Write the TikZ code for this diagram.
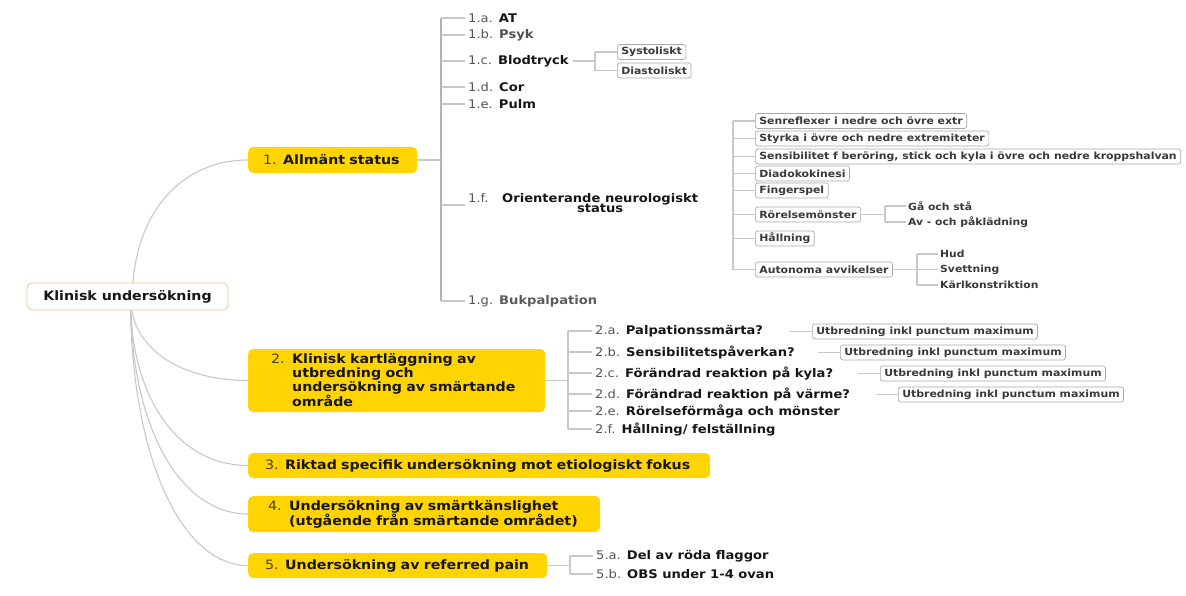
\documentclass[tikz,border=0pt]{standalone}
\usepackage{fontspec}
\setmainfont{DejaVu Sans}[FakeStretch=1.1]
\usetikzlibrary{backgrounds}
\definecolor{myyellow}{RGB}{255,212,0}
\definecolor{connc}{RGB}{200,200,200}
\definecolor{conndark}{RGB}{178,178,178}
\definecolor{boxline}{RGB}{168,168,168}
\definecolor{rootline}{RGB}{246,200,140}
\definecolor{numcol}{RGB}{85,85,85}
\definecolor{txt}{RGB}{22,22,22}
\newcommand{\numm}[1]{{\mdseries\color{numcol}#1}}
\newcommand{\mnum}[1]{{\mdseries\color{black!70!myyellow}#1}}
\tikzset{
  mainbox/.style={fill=myyellow, rounded corners=5pt, anchor=west, inner ysep=0pt,
    align=left, text=txt, font=\bfseries\fontsize{12.9}{13.9}\selectfont},
  rootbox/.style={draw=rootline, line width=0.9pt, fill=white, rounded corners=5pt,
    minimum width=201pt, minimum height=27pt, inner sep=0pt, text=txt,
    font=\bfseries\fontsize{12.9}{14}\selectfont},
  item/.style={anchor=west, inner sep=0pt, text=txt, font=\bfseries\fontsize{11.9}{12.5}\selectfont},
  smallbox/.style={draw=boxline, line width=0.7pt, fill=white, rounded corners=2.5pt,
    anchor=west, inner xsep=4pt, inner ysep=0pt, minimum height=15pt, text=txt!85,
    font=\bfseries\fontsize{9.9}{11}\selectfont},
  leaf/.style={anchor=west, inner sep=0pt, text=txt!85, font=\bfseries\fontsize{9.8}{11}\selectfont},
  conn/.style={draw=connc, line width=1.1pt},
  trunk/.style={draw=conndark, line width=1.6pt},
}
\begin{document}
\begin{tikzpicture}[x=1pt, y=-1pt]
\useasboundingbox (0,0) rectangle (1186,595);

% root and main boxes
\node[rootbox] (root) at (127.5,296.5) {Klinisk undersökning};
\node[mainbox, minimum height=26pt, inner xsep=15pt, text width=139pt] (b1) at (248,160) {\mnum{1.} Allmänt status};
\node[mainbox, minimum height=63pt, inner xsep=23pt, text width=251pt] (b2) at (248,380.5)
  {\makebox[21pt][l]{\mnum{2.}}Klinisk kartläggning av\\\hspace*{21pt}utbredning och\\\hspace*{21pt}undersökning av smärtande\\\hspace*{21pt}område};
\node[mainbox, minimum height=25pt, inner xsep=17pt, text width=428pt] (b3) at (248,465.5) {\mnum{3.} Riktad specifik undersökning mot etiologiskt fokus};
\node[mainbox, minimum height=36pt, inner xsep=20pt, text width=312pt, font=\bfseries\fontsize{12.9}{15}\selectfont] (b4) at (248,514)
  {\makebox[21pt][l]{\mnum{4.}}Undersökning av smärtkänslighet\\\hspace*{21pt}(utgående från smärtande området)};
\node[mainbox, minimum height=25pt, inner xsep=17pt, text width=265pt] (b5) at (248,565.5) {\mnum{5.} Undersökning av referred pain};

% curves from root
\begin{scope}[on background layer]
\draw[conn] ([xshift=5pt]root.center) .. controls (133,215) and (180,160) .. (b1.west);
\draw[conn] ([xshift=3pt]root.center) .. controls (130,348) and (180,380.5) .. (b2.west);
\draw[conn] ([xshift=3pt]root.center) .. controls (130,401) and (180,465.5) .. (b3.west);
\draw[conn] ([xshift=3pt]root.center) .. controls (130,427) and (180,514) .. (b4.west);
\draw[conn] ([xshift=3pt]root.center) .. controls (130,453) and (180,565.5) .. (b5.west);
\end{scope}

% ---------- section 1
\coordinate (v1t) at (441,18);
\coordinate (v1b) at (441,301);
\draw[trunk] (v1t) -- (v1b);
\draw[conn] (b1.east) -- (b1.east -| v1t);
\node[item] (i1a) at (468,18) {\numm{1.a.} AT};
\node[item, text=txt!75] (i1b) at (468,35) {\numm{1.b.} Psyk};
\node[item] (i1c) at (468,61) {\numm{1.c.} Blodtryck};
\node[item] (i1d) at (468,87) {\numm{1.d.} Cor};
\node[item] (i1e) at (468,104) {\numm{1.e.} Pulm};
\node[item] (i1f) at (468,205)
  {\begin{tabular}{@{}l@{}c@{}}\makebox[34pt][l]{\numm{1.f.}} & Orienterande neurologiskt\\[-2pt] & status\end{tabular}};
\node[item, text=txt!70] (i1g) at (468,301) {\numm{1.g.} Bukpalpation};
\foreach \n in {i1a,i1b,i1c,i1d,i1e,i1f,i1g}
  \draw[conn] (\n.west -| v1t) -- ([xshift=-3pt]\n.west);

% Blodtryck
\coordinate (bvt) at (595,52);
\coordinate (bvb) at (595,70.5);
\node[smallbox] (sys) at (617,52) {Systoliskt};
\node[smallbox] (dia) at (617,70.5) {Diastoliskt};
\draw[conn] ([xshift=4pt]i1c.east) -- (i1c.east -| bvt);
\draw[conn] (bvt) -- (bvb);
\draw[conn] (sys.west -| bvt) -- (sys.west);
\draw[conn] (dia.west -| bvt) -- (dia.west);

% neurologiskt status
\coordinate (nvt) at (733,121);
\coordinate (nvb) at (733,269.5);
\draw[conn] (nvt) -- (nvb);
\node[smallbox] (n1) at (755,121) {Senreflexer i nedre och övre extr};
\node[smallbox] (n2) at (755,138.5) {Styrka i övre och nedre extremiteter};
\node[smallbox] (n3) at (755,156.5) {Sensibilitet f beröring, stick och kyla i övre och nedre kroppshalvan};
\node[smallbox] (n4) at (755,173.5) {Diadokokinesi};
\node[smallbox] (n5) at (755,190.5) {Fingerspel};
\node[smallbox] (n6) at (755,214.5) {Rörelsemönster};
\node[smallbox] (n7) at (755,238.5) {Hållning};
\node[smallbox] (n8) at (755,269.5) {Autonoma avvikelser};
\foreach \n in {n1,n2,n3,n4,n5,n6,n7,n8}
  \draw[conn] (\n.west -| nvt) -- (\n.west);

\coordinate (rvt) at (885,206);
\coordinate (rvb) at (885,222);
\draw[conn] (n6.east) -- (n6.east -| rvt);
\draw[conn] (rvt) -- (rvb);
\node[leaf] (r1) at (908,206) {Gå och stå};
\node[leaf] (r2) at (908,222) {Av - och påklädning};
\draw[conn] (rvt) -- ([xshift=-2pt]r1.west);
\draw[conn] (rvb) -- ([xshift=-2pt]r2.west);

\coordinate (avt) at (917,254);
\coordinate (avb) at (917,285);
\draw[conn] (n8.east) -- (n8.east -| avt);
\draw[conn] (avt) -- (avb);
\node[leaf] (a1) at (940,254) {Hud};
\node[leaf] (a2) at (940,269.5) {Svettning};
\node[leaf] (a3) at (940,285) {Kärlkonstriktion};
\foreach \n in {a1,a2,a3}
  \draw[conn] (\n.west -| avt) -- ([xshift=-2pt]\n.west);

% ---------- section 2
\coordinate (s2t) at (568,331);
\coordinate (s2b) at (568,429);
\draw[conn] (b2.east) -- (b2.east -| s2t);
\draw[conn] (s2t) -- (s2b);
\node[item] (i2a) at (595,331) {\numm{2.a.} Palpationssmärta?};
\node[item] (i2b) at (595,352) {\numm{2.b.} Sensibilitetspåverkan?};
\node[item] (i2c) at (595,373) {\numm{2.c.} Förändrad reaktion på kyla?};
\node[item] (i2d) at (595,394) {\numm{2.d.} Förändrad reaktion på värme?};
\node[item] (i2e) at (595,411) {\numm{2.e.} Rörelseförmåga och mönster};
\node[item] (i2f) at (595,429) {\numm{2.f.} Hållning/ felställning};
\foreach \n in {i2a,i2b,i2c,i2d,i2e,i2f}
  \draw[conn] (\n.west -| s2t) -- ([xshift=-3pt]\n.west);
\node[smallbox] (u1) at (812,331.5) {Utbredning inkl punctum maximum};
\node[smallbox] (u2) at (840,352.5) {Utbredning inkl punctum maximum};
\node[smallbox] (u3) at (880,373.5) {Utbredning inkl punctum maximum};
\node[smallbox] (u4) at (898,394.5) {Utbredning inkl punctum maximum};
\foreach \n in {u1,u2,u3,u4}
  \draw[conn] ([xshift=-22pt]\n.west) -- (\n.west);

% ---------- section 5
\coordinate (s5t) at (570,556);
\coordinate (s5b) at (570,574);
\draw[conn] (b5.east) -- (b5.east -| s5t);
\draw[conn] (s5t) -- (s5b);
\node[item] (i5a) at (596,556) {\numm{5.a.} Del av röda flaggor};
\node[item] (i5b) at (596,574) {\numm{5.b.} OBS under 1-4 ovan};
\draw[conn] (s5t) -- ([xshift=-3pt]i5a.west);
\draw[conn] (s5b) -- ([xshift=-3pt]i5b.west);
\end{tikzpicture}
\end{document}
